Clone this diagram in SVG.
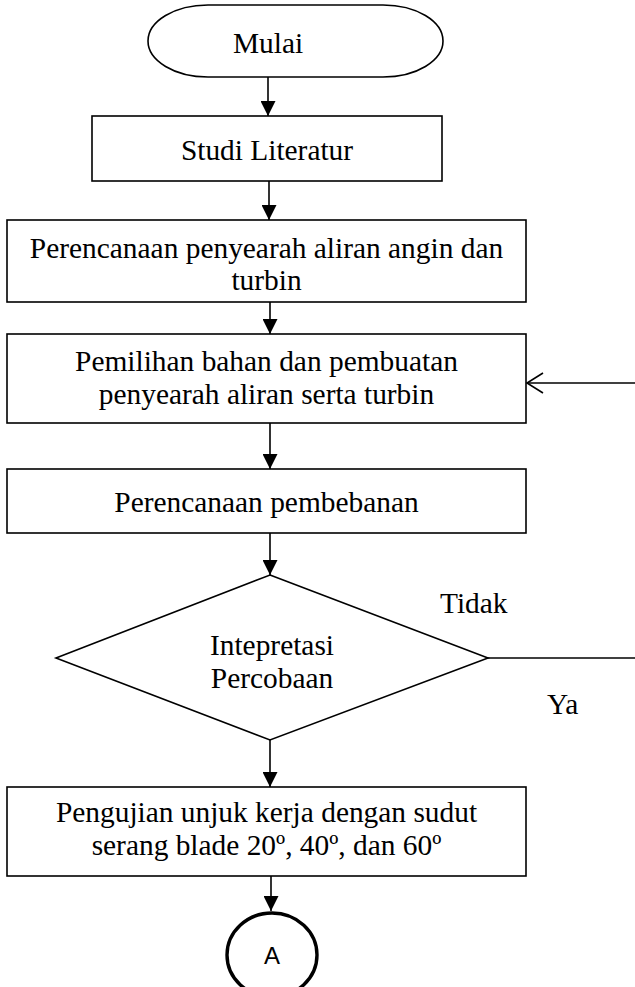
<svg xmlns="http://www.w3.org/2000/svg" width="635" height="987" viewBox="0 0 635 987">
<style>
.s{fill:#fff;stroke:#000;stroke-width:1.6}
.t{font-family:"Liberation Serif","Times New Roman",serif;font-size:29.4px;fill:#000;text-anchor:middle}
.l{font-family:"Liberation Serif","Times New Roman",serif;font-size:29.4px;fill:#000}
.c{stroke:#000;stroke-width:1.6;fill:none}
</style>
<defs>
<marker id="ah" viewBox="0 0 15 15" refX="15" refY="7.5" markerWidth="15" markerHeight="15" markerUnits="userSpaceOnUse" orient="auto">
<path d="M0,0 L15,7.5 L0,15 Z" fill="#000"/>
</marker>
</defs>
<rect width="635" height="987" fill="#fff"/>
<g id="connectors">
<line class="c" x1="268" y1="77" x2="268" y2="116" marker-end="url(#ah)"/>
<line class="c" x1="269" y1="181" x2="269" y2="220" marker-end="url(#ah)"/>
<line class="c" x1="270" y1="302" x2="270" y2="334" marker-end="url(#ah)"/>
<line class="c" x1="270" y1="423" x2="270" y2="469" marker-end="url(#ah)"/>
<line class="c" x1="270" y1="533" x2="270" y2="575" marker-end="url(#ah)"/>
<line class="c" x1="270" y1="740" x2="270" y2="787" marker-end="url(#ah)"/>
<line class="c" x1="271" y1="876" x2="271" y2="911" marker-end="url(#ah)"/>
<line class="c" x1="488" y1="658" x2="635" y2="658"/>
<line class="c" x1="635" y1="383" x2="527" y2="383"/>
<path class="c" d="M543,373 L527,383 L543,393"/>
<text class="l" x="440" y="613">Tidak</text>
<text class="l" x="547" y="714">Ya</text>
</g>
<g id="start">
<rect class="s" x="148" y="5" width="295" height="72" rx="60" ry="36"/>
<text class="t" x="268" y="53">Mulai</text>
</g>
<g id="studi">
<rect class="s" x="92" y="116" width="350" height="65"/>
<text class="t" x="267" y="160">Studi Literatur</text>
</g>
<g id="perencanaan1">
<rect class="s" x="7" y="220" width="519" height="82"/>
<text class="t" x="266.5" y="258">Perencanaan penyearah aliran angin dan</text>
<text class="t" x="266.5" y="290">turbin</text>
</g>
<g id="pemilihan">
<rect class="s" x="7" y="334" width="519" height="89"/>
<text class="t" x="266.5" y="371">Pemilihan bahan dan pembuatan</text>
<text class="t" x="266.5" y="404">penyearah aliran serta turbin</text>
</g>
<g id="pembebanan">
<rect class="s" x="7" y="469" width="519" height="64"/>
<text class="t" x="266.5" y="512">Perencanaan pembebanan</text>
</g>
<g id="interpretasi">
<polygon class="s" points="270,575 488,658 270,740 56,658"/>
<text class="t" x="272" y="655">Intepretasi</text>
<text class="t" x="272" y="688">Percobaan</text>
</g>
<g id="pengujian">
<rect class="s" x="7" y="787" width="519" height="89"/>
<text class="t" x="266.5" y="822">Pengujian unjuk kerja dengan sudut</text>
<text class="t" x="266.5" y="855">serang blade 20º, 40º, dan 60º</text>
</g>
<g id="A">
<ellipse cx="272" cy="955" rx="45" ry="42" fill="#fff" stroke="#000" stroke-width="3.4"/>
<text x="272" y="964" font-family="Liberation Sans, Arial, sans-serif" font-size="24" text-anchor="middle">A</text>
</g>
</svg>
